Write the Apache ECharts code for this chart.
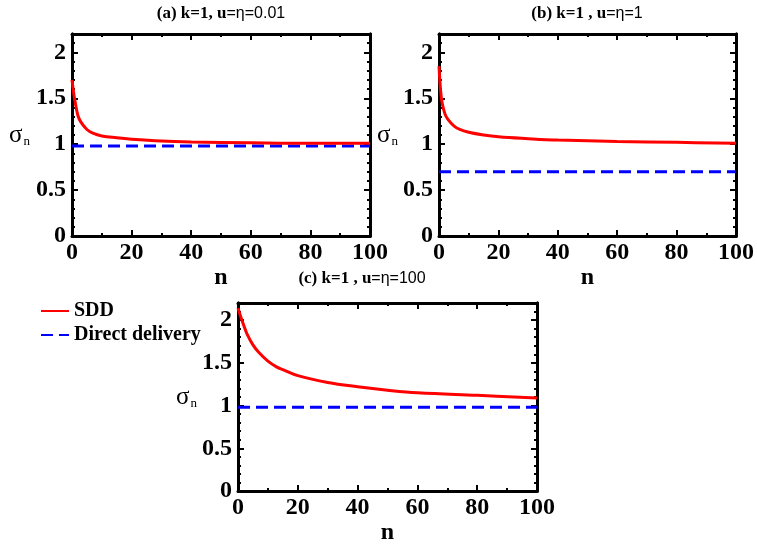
<!DOCTYPE html>
<html>
<head>
<meta charset="utf-8">
<script src="https://cdn.jsdelivr.net/npm/echarts@6/dist/echarts.min.js"></script>
<style>
html,body{margin:0;padding:0;background:#fff}
#main{width:757px;height:546px}
</style>
</head>
<body>
<div id="main"></div>
<script>
// values
var nAB = [0, 0.5, 1, 2, 3, 5, 7, 10, 15, 20, 30, 40, 60, 80, 100];
var sddA = [1.70, 1.57, 1.47, 1.31, 1.24, 1.16, 1.12, 1.09, 1.07, 1.055, 1.035, 1.025, 1.015, 1.01, 1.01];
var sddB = [1.85, 1.60, 1.46, 1.33, 1.27, 1.20, 1.16, 1.13, 1.10, 1.08, 1.06, 1.045, 1.03, 1.02, 1.01];
var nC = [0, 1, 2, 3, 5, 7, 10, 13, 15, 20, 30, 40, 50, 60, 80, 100];
var sddC = [2.14, 2.03, 1.93, 1.84, 1.71, 1.62, 1.52, 1.45, 1.42, 1.35, 1.27, 1.22, 1.18, 1.15, 1.12, 1.09];
var nDirect = [0, 100];
var directA = [0.98, 0.98];
var directB = [0.70, 0.70];
var directC = [0.98, 0.98];

var FONT = 'Liberation Serif';

function pairs(xs, ys){
	var out = [];
	for(var i=0;i<xs.length;i++){
		out.push([xs[i], ys[i]]);
	}
	return out;
}

var grids = [
	{left:72, top:34, width:298, height:202},
	{left:439, top:34, width:299, height:202},
	{left:238, top:303, width:299, height:198}
];
var yNameGap = [42, 31, 41];
var xNameGap = [20, 20, 18];

var xAxes = [];
var yAxes = [];
var blackLine = {show:true, onZero:false, lineStyle:{color:'#000', width:3}};

for(var g=0;g<3;g++){
	xAxes.push({
		gridIndex:g, type:'value', position:'bottom', min:0, max:100, interval:20,
		axisLine:blackLine,
		axisTick:{inside:true, length:6, lineStyle:{color:'#000', width:2}},
		minorTick:{show:true, splitNumber:2, length:3, lineStyle:{color:'#000', width:2}},
		splitLine:{show:false},
		axisLabel:{margin:5, fontFamily:FONT, fontWeight:'bold', fontSize:24, color:'#000'},
		name:'n', nameLocation:'middle', nameGap:xNameGap[g],
		nameTextStyle:{fontFamily:FONT, fontWeight:'bold', fontSize:24, color:'#000'}
	});
	xAxes.push({
		gridIndex:g, type:'value', position:'top', min:0, max:100, interval:20,
		axisLine:blackLine,
		axisTick:{inside:true, length:6, lineStyle:{color:'#000', width:2}},
		minorTick:{show:true, splitNumber:2, length:3, lineStyle:{color:'#000', width:2}},
		splitLine:{show:false},
		axisLabel:{show:false}
	});
	// left, fine ticks with labels
	yAxes.push({
		gridIndex:g, type:'value', position:'left', min:0, max:2.2, interval:0.1,
		axisLine:blackLine,
		axisTick:{inside:true, length:3, lineStyle:{color:'#000', width:2}},
		splitLine:{show:false},
		axisLabel:{
			margin:6, fontFamily:FONT, fontWeight:'bold', fontSize:24, color:'#000',
			formatter:function(v){
				var t = Math.round(v*10);
				return t % 5 === 0 ? String(t/10) : '';
			}
		},
		name:'{s|σ}{n|n}', nameLocation:'middle', nameRotate:0, nameGap:yNameGap[g],
		nameTextStyle:{
			rich:{
				s:{fontFamily:FONT, fontSize:25, color:'#000'},
				n:{fontFamily:FONT, fontSize:13, color:'#000', verticalAlign:'bottom', padding:[14,0,0,1]}
			}
		}
	});
	// left, long ticks
	yAxes.push({
		gridIndex:g, type:'value', position:'left', min:0, max:2.2, interval:0.5,
		axisLine:blackLine,
		axisTick:{inside:true, length:6, lineStyle:{color:'#000', width:2}},
		splitLine:{show:false}, axisLabel:{show:false}
	});
	yAxes.push({
		gridIndex:g, type:'value', position:'right', min:0, max:2.2, interval:0.1,
		axisLine:blackLine,
		axisTick:{inside:true, length:3, lineStyle:{color:'#000', width:2}},
		splitLine:{show:false}, axisLabel:{show:false}
	});
	yAxes.push({
		gridIndex:g, type:'value', position:'right', min:0, max:2.2, interval:0.5,
		axisLine:blackLine,
		axisTick:{inside:true, length:6, lineStyle:{color:'#000', width:2}},
		splitLine:{show:false}, axisLabel:{show:false}
	});
}

function sddSeries(g, xs, ys){
	return {
		name:'SDD', type:'line', xAxisIndex:2*g, yAxisIndex:4*g,
		data:pairs(xs, ys), smooth:0.4, showSymbol:false, symbol:'none',
		lineStyle:{color:'#ff0000', width:3}, itemStyle:{color:'#ff0000'}, z:3
	};
}
function directSeries(g, ys){
	return {
		name:'Direct delivery', type:'line', xAxisIndex:2*g, yAxisIndex:4*g,
		data:pairs(nDirect, ys), showSymbol:false, symbol:'none',
		lineStyle:{color:'#0000ff', width:3, type:[12, 6]}, itemStyle:{color:'#0000ff'}, z:2
	};
}

function titleText(x, y, boldPart, normalPart){
	return {
		type:'text', x:x, y:y,
		style:{
			text:'{b|' + boldPart + '}{r|' + normalPart + '}',
			align:'center', verticalAlign:'middle',
			rich:{
				b:{fontFamily:FONT, fontWeight:'bold', fontSize:17, fill:'#000'},
				r:{fontFamily:'Liberation Sans', fontSize:16, fill:'#000'}
			}
		}
	};
}

var chart = echarts.init(document.getElementById('main'));
chart.setOption({
	animation:false,
	backgroundColor:'#fff',
	grid:grids,
	xAxis:xAxes,
	yAxis:yAxes,
	legend:{
		data:['SDD', 'Direct delivery'],
		orient:'vertical', left:35, top:296,
		itemWidth:28, itemHeight:14, itemGap:4,
		itemStyle:{color:'rgba(0,0,0,0)', borderWidth:0, opacity:0},
		textStyle:{fontFamily:FONT, fontWeight:'bold', fontSize:20, color:'#000'}
	},
	graphic:[
		titleText(221, 14, '(a) k=1, u', '=η=0.01'),
		titleText(587, 14, '(b) k=1 , u', '=η=1'),
		titleText(362, 279, '(c) k=1 , u', '=η=100')
	],
	series:[
		sddSeries(0, nAB, sddA), directSeries(0, directA),
		sddSeries(1, nAB, sddB), directSeries(1, directB),
		sddSeries(2, nC, sddC), directSeries(2, directC)
	]
});
</script>
</body>
</html>
